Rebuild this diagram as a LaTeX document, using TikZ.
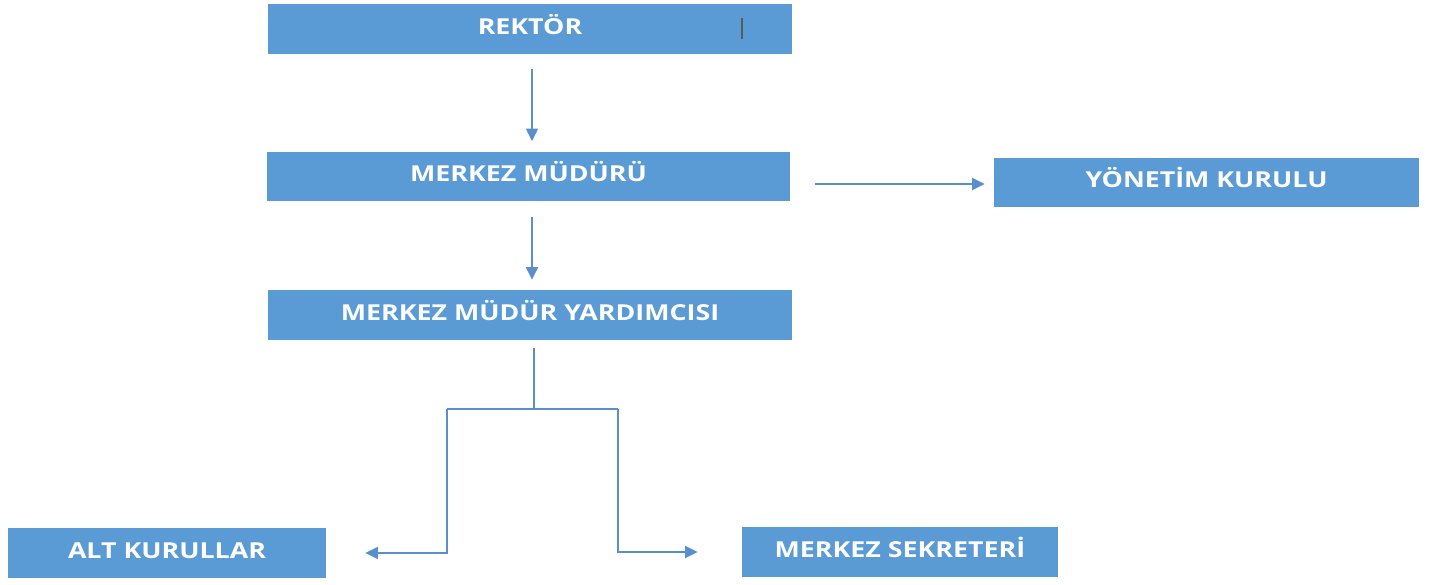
\documentclass[tikz,border=0pt]{standalone}
\usepackage{fontspec}
\newfontfamily\boxfont{Open Sans}[FakeStretch=1.22]
\usepackage{tikz}
\usetikzlibrary{arrows.meta,positioning}

\definecolor{boxblue}{HTML}{5B9BD5}
\definecolor{linkblue}{HTML}{5A8FCB}

\begin{document}
\begin{tikzpicture}[
    x=0.02cm, y=-0.02cm,
    >={Triangle[length=0.25cm,width=0.24cm]},
    unit box/.style={
        rectangle,
        fill=boxblue,
        inner sep=0pt,
        minimum height=1cm,
        text height=0.35cm,
        text depth=0.15cm,
        text=white,
        font=\boxfont\bfseries\fontsize{12.5}{15}\selectfont
    },
    link/.style={
        draw=linkblue,
        line width=1.1pt
    }
]

\useasboundingbox (0,0) rectangle (1441,585);

% Main column
\node[unit box, minimum width=10.48cm] (rektor) at (530,29) {REKTÖR};
\node[unit box, minimum width=10.46cm] (mudur) at (528.5,176.5) {MERKEZ MÜDÜRÜ};
\node[unit box, minimum width=10.48cm] (yard) at (530,315) {MERKEZ MÜDÜR YARDIMCISI};

% Side and bottom units
\node[unit box, minimum width=8.5cm] (yonetim) at (1206.5,182.5) {YÖNETİM KURULU};
\node[unit box, minimum width=6.36cm] (alt) at (167,553) {ALT KURULLAR};
\node[unit box, minimum width=6.32cm] (sekreter) at (900,552) {MERKEZ SEKRETERİ};

% Cursor mark in top box
\draw[gray!70!black, line width=0.8pt] (742,18) -- (742,39);

% Connectors
\draw[link,->,shorten <=0.3cm,shorten >=0.2cm] (rektor.south -| 532,0) -- (mudur.north -| 532,0);
\draw[link,->,shorten <=0.3cm,shorten >=0.2cm] (mudur.south -| 532,0) -- (yard.north -| 532,0);
\draw[link,->,shorten <=0.5cm,shorten >=0.18cm] (mudur.east |- 0,184) -- (yonetim.west |- 0,184);

% Branch under the deputy
\coordinate (split) at (534,409);
\coordinate (branchL) at (447,409);
\coordinate (branchR) at (618,409);
\draw[link,shorten <=0.16cm] (yard.south -| split) -- (split);
\draw[link] (branchL) -- (branchR);
\draw[link,->,shorten >=0.78cm] (branchL) |- (alt.east);
\draw[link,->,shorten >=0.88cm] (branchR) |- (sekreter.west);

\end{tikzpicture}
\end{document}
